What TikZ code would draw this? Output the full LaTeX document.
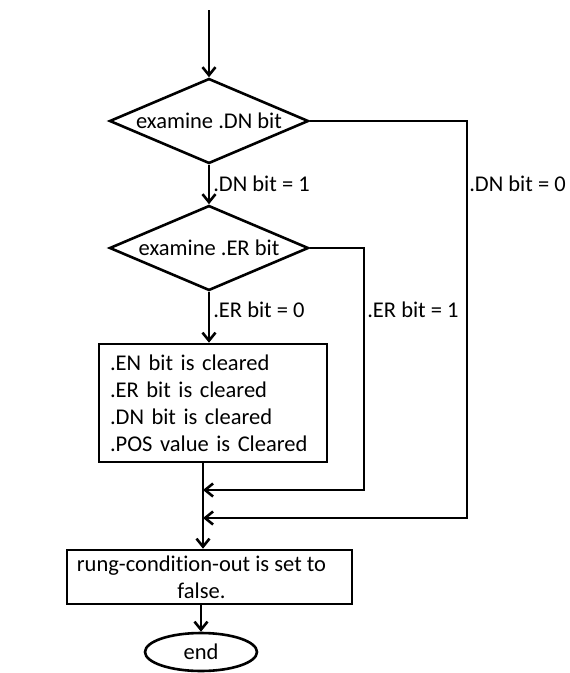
\documentclass[tikz,border=0pt]{standalone}
\usepackage{fontspec}
\setmainfont{Carlito}[Ligatures=NoCommon]
\usetikzlibrary{shapes.geometric,arrows.meta,positioning}

\begin{document}
\begin{tikzpicture}[x=1pt,y=-1pt]
    \tikzstyle{every path}=[line width=2.6pt]
    \tikzstyle{every node}=[font=\fontsize{22.5}{27}\selectfont]
    \tikzstyle{flow}=[-{Straight Barb[length=8pt,width=13pt]}]
    \tikzstyle{decision}=[draw,diamond,aspect=2.2,inner sep=0pt,minimum width=199pt,minimum height=85pt]
    \tikzstyle{process}=[draw,rectangle]
    \tikzstyle{terminal}=[draw,ellipse,minimum width=112pt,minimum height=38pt,inner sep=0pt]
    \tikzstyle{branch}=[anchor=west,inner sep=0pt]

    \useasboundingbox (0,0) rectangle (570,673);

    \node[decision] (dnbit) at (209,121) {examine .DN bit};
    \node[decision] (erbit) at (209,248) {examine .ER bit};
    \node[process,align=left,text width=206pt,inner xsep=11pt,minimum height=118pt] (clrbox) at (213,403)
      {.EN bit is cleared\\.ER bit is cleared\\.DN bit is cleared\\.POS value is Cleared};
    \node[process,align=center,minimum width=285pt,minimum height=54pt,inner sep=0pt] (rungbox) at (209.5,577)
      {rung-condition-out is set to\hspace*{16pt}\\false.\hspace*{16pt}};
    \node[terminal] (endnode) at (201,652) {end};

    \coordinate (start)    at (209,10);
    \coordinate (ercorner) at (364,490);
    \coordinate (dncorner) at (467,518);
    \coordinate (erjoin)   at (203,490);
    \coordinate (dnjoin)   at (203,518);

    \draw[flow] (start) -- (dnbit.north);
    \draw[flow] (dnbit.south) -- (erbit.north);
    \draw[flow] (erbit.south) -- (erbit.south |- clrbox.north);
    \draw[flow] (dnbit.east) -| (dncorner) -- (dnjoin);
    \draw[flow] (erbit.east) -| (ercorner) -- (erjoin);
    \draw[flow] (erjoin |- clrbox.south) -- (erjoin |- rungbox.north);
    \draw[flow] (endnode.north |- rungbox.south) -- (endnode.north);

    \node[branch] (dnone)  at (212,184) {.DN bit = 1};
    \node[branch] (erzero) at (212,310) {.ER bit = 0};
    \node[branch] (erone)  at (366,310) {.ER bit = 1};
    \node[branch] (dnzero) at (468,184) {.DN bit = 0};
\end{tikzpicture}
\end{document}
